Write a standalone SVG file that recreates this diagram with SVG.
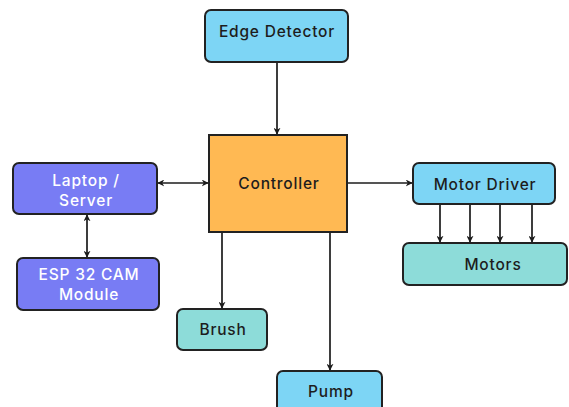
<svg xmlns="http://www.w3.org/2000/svg" width="569" height="407" viewBox="0 0 569 407">
  <defs>
    <marker id="arrow" viewBox="0 0 10 10" refX="9" refY="5" markerWidth="7" markerHeight="7" markerUnits="userSpaceOnUse" orient="auto-start-reverse">
      <path d="M0,0 L10,5 L0,10 L3,5 Z" fill="#1c1c1c"/>
    </marker>
    <style>
      .box { stroke: #222; stroke-width: 2; }
      .blue { fill: #7dd5f5; }
      .purple { fill: #787cf4; }
      .orange { fill: #ffb953; }
      .teal { fill: #8ddcd9; }
      .label { font-family: "Inter", "Liberation Sans", sans-serif; font-size: 15.5px; font-weight: 500; letter-spacing: 0.8px; fill: #1d1d1d; text-anchor: middle; dominant-baseline: central; }
      .light { fill: #ffffff; }
      .wire { stroke: #1c1c1c; stroke-width: 1.7; fill: none; }
    </style>
  </defs>

  <g id="connectors">
    <line class="wire" x1="277" y1="62" x2="277" y2="134" marker-end="url(#arrow)"/>
    <line class="wire" x1="158" y1="183" x2="208" y2="183" marker-start="url(#arrow)" marker-end="url(#arrow)"/>
    <line class="wire" x1="87" y1="215" x2="87" y2="257" marker-start="url(#arrow)" marker-end="url(#arrow)"/>
    <line class="wire" x1="347" y1="183" x2="412" y2="183" marker-end="url(#arrow)"/>
    <line class="wire" x1="440" y1="204" x2="440" y2="242" marker-end="url(#arrow)"/>
    <line class="wire" x1="470" y1="204" x2="470" y2="242" marker-end="url(#arrow)"/>
    <line class="wire" x1="500" y1="204" x2="500" y2="242" marker-end="url(#arrow)"/>
    <line class="wire" x1="532" y1="204" x2="532" y2="242" marker-end="url(#arrow)"/>
    <line class="wire" x1="222" y1="232" x2="222" y2="308" marker-end="url(#arrow)"/>
    <line class="wire" x1="330" y1="232" x2="330" y2="370" marker-end="url(#arrow)"/>
  </g>

  <g id="edge-detector">
    <rect class="box blue" x="205" y="10" width="143" height="52" rx="6"/>
    <text class="label" x="277" y="31">Edge Detector</text>
  </g>

  <g id="controller">
    <rect class="box orange" x="209" y="135" width="138" height="97"/>
    <text class="label" x="279" y="183">Controller</text>
  </g>

  <g id="laptop-server">
    <rect class="box purple" x="13" y="163" width="144" height="51" rx="6"/>
    <text class="label light" x="86" y="180">Laptop /</text>
    <text class="label light" x="86" y="200">Server</text>
  </g>

  <g id="esp32-cam">
    <rect class="box purple" x="17" y="258" width="142" height="52" rx="6"/>
    <text class="label light" x="89" y="274">ESP 32 CAM</text>
    <text class="label light" x="89" y="294">Module</text>
  </g>

  <g id="motor-driver">
    <rect class="box blue" x="413" y="163" width="142" height="41" rx="6"/>
    <text class="label" x="485" y="184">Motor Driver</text>
  </g>

  <g id="motors">
    <rect class="box teal" x="403" y="243" width="164" height="42" rx="6"/>
    <text class="label" x="493" y="264">Motors</text>
  </g>

  <g id="brush">
    <rect class="box teal" x="177" y="309" width="90" height="41" rx="6"/>
    <text class="label" x="223" y="329">Brush</text>
  </g>

  <g id="pump">
    <rect class="box blue" x="277" y="371" width="105" height="46" rx="6"/>
    <text class="label" x="331" y="391">Pump</text>
  </g>
</svg>
